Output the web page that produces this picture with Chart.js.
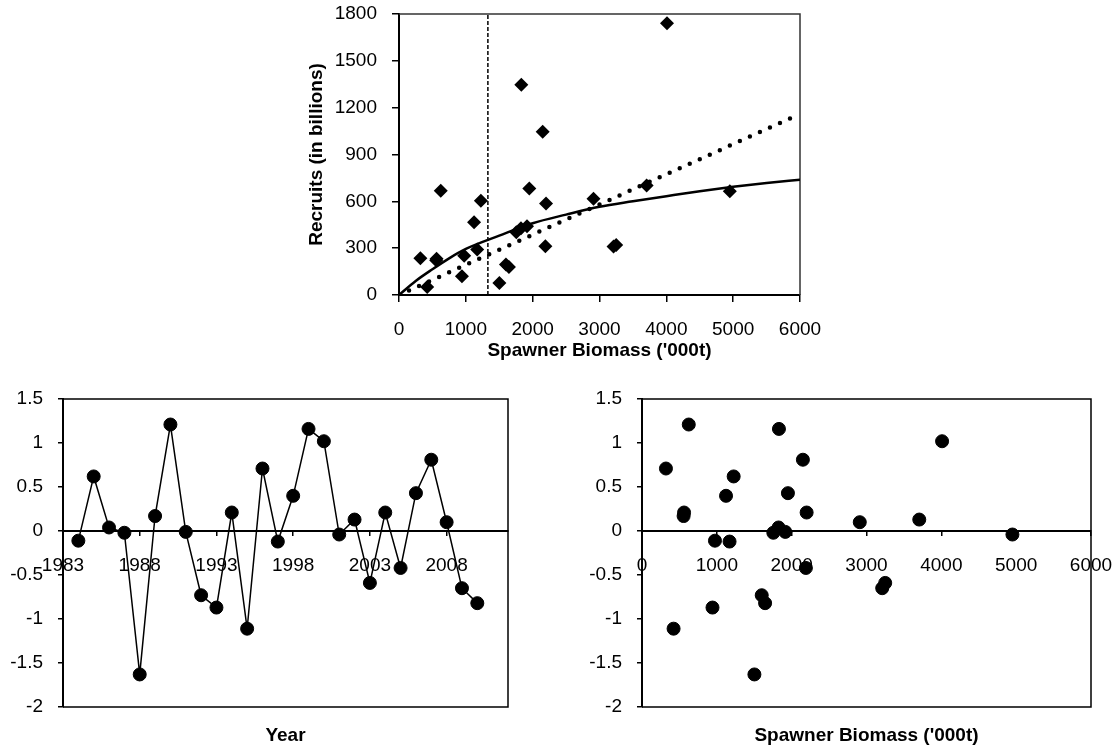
<!DOCTYPE html>
<html>
<head>
<meta charset="utf-8">
<script src="https://cdn.jsdelivr.net/npm/chart.js@4.4.1/dist/chart.umd.min.js"></script>
<style>
  html, body { margin: 0; padding: 0; background: #fff; }
  #page { position: relative; width: 1120px; height: 752px; overflow: hidden; }
  canvas { position: absolute; }
</style>
</head>
<body>
<div id="page">
  <canvas id="srChart" width="560" height="370" style="left:280px;top:0px"></canvas>
  <canvas id="yearChart" width="540" height="372" style="left:0px;top:380px"></canvas>
  <canvas id="ssbChart" width="560" height="372" style="left:560px;top:380px"></canvas>
</div>
<script>
// one value per year
const years = [1984, 1985, 1986, 1987, 1988, 1989, 1990, 1991, 1992, 1993, 1994, 1995, 1996, 1997,
  1998, 1999, 2000, 2001, 2002, 2003, 2004, 2005, 2006, 2007, 2008, 2009, 2010];
const biomass = [975, 1225, 1825, 1755, 1502, 556, 625, 1915, 1600, 942, 562, 422, 320, 1170,
  1123, 1830, 4010, 4950, 3705, 3250, 2200, 2190, 1950, 2150, 2910, 3210, 1645];
const recruits = [252, 603, 428, 402, 77, 222, 667, 440, 195, 120, 232, 51, 235, 291,
  466, 1347, 1740, 665, 701, 320, 586, 312, 682, 1045, 616, 310, 180];
const residuals = [-0.11, 0.62, 0.04, -0.02, -1.63, 0.17, 1.21, -0.01, -0.73, -0.87, 0.21, -1.11, 0.71, -0.12,
  0.40, 1.16, 1.02, -0.04, 0.13, -0.59, 0.21, -0.42, 0.43, 0.81, 0.10, -0.65, -0.82];

// fitted curve (solid)
const fitX = [0, 250, 500, 750, 1000, 1500, 2000, 2500, 3000, 3500, 4000, 4500, 5000, 5500, 6000];
const fitY = [0, 90, 165, 235, 295, 380, 460, 515, 565, 600, 633, 665, 693, 718, 739];

// straight dotted line
const lineX = [0, 6000];
const lineY = [0, 1160];

// vertical reference line
const blimX = [1330, 1330];
const blimY = [0, 1800];

const yearTicks = [1983, 1988, 1993, 1998, 2003, 2008];

const FONT = "'Liberation Sans', Arial, sans-serif";
const tickFont = { family: FONT, size: 19 };
const titleFont = { family: FONT, size: 19, weight: 'bold' };

function pts(xs, ys) {
  return xs.map((x, i) => ({ x: x, y: ys[i] }));
}

// top / right (and optionally bottom) edges of the plot box
const framePlugin = {
  id: 'frame',
  beforeDatasetsDraw(chart, args, opts) {
    const { ctx, chartArea: a } = chart;
    ctx.save();
    ctx.strokeStyle = opts.color;
    ctx.lineWidth = opts.width;
    ctx.beginPath();
    ctx.moveTo(a.left, a.top);
    ctx.lineTo(a.right, a.top);
    ctx.lineTo(a.right, a.bottom);
    if (opts.bottom) ctx.lineTo(a.left, a.bottom);
    ctx.stroke();
    ctx.restore();
  }
};

const plain = v => String(Math.round(v * 10) / 10);

// fixed axis boxes, no extra room for overhanging labels
function fixWidth(w) {
  return s => { s.width = w; s.paddingTop = 0; s.paddingBottom = 0; };
}
function fixHeight(h) {
  return s => { s.height = h; s.paddingLeft = 0; s.paddingRight = 0; };
}

// ---- top: recruits vs spawner biomass ----
new Chart(document.getElementById('srChart'), {
  type: 'scatter',
  data: {
    datasets: [
      {
        data: pts(biomass, recruits),
        pointStyle: 'rectRot',
        pointRadius: 7,
        borderWidth: 0,
        backgroundColor: '#000',
        borderColor: '#000'
      },
      {
        data: pts(fitX, fitY),
        showLine: true,
        borderColor: '#000',
        borderWidth: 2.5,
        pointRadius: 0,
        cubicInterpolationMode: 'monotone'
      },
      {
        data: pts(lineX, lineY),
        showLine: true,
        borderColor: '#000',
        borderWidth: 4.5,
        borderDash: [0, 11],
        borderCapStyle: 'round',
        pointRadius: 0
      },
      {
        data: pts(blimX, blimY),
        showLine: true,
        borderColor: '#000',
        borderWidth: 1.5,
        borderDash: [4, 2],
        pointRadius: 0
      }
    ]
  },
  options: {
    responsive: false,
    animation: false,
    devicePixelRatio: 1,
    layout: { autoPadding: false, padding: { left: 0, right: 40, top: 14, bottom: 0 } },
    plugins: {
      legend: { display: false },
      tooltip: { enabled: false },
      frame: { color: '#333', width: 1.5, bottom: false }
    },
    scales: {
      x: {
        type: 'linear',
        min: 0,
        max: 6000,
        ticks: { stepSize: 1000, color: '#000', font: tickFont, padding: 16, callback: plain, maxRotation: 0 },
        grid: { drawOnChartArea: false, tickLength: 7, color: '#000', lineWidth: 1.5 },
        border: { color: '#000', width: 2 },
        title: { display: true, text: "Spawner Biomass ('000t)", color: '#000', font: titleFont, padding: { top: 0, bottom: 8 } },
        afterFit: fixHeight(75)
      },
      y: {
        min: 0,
        max: 1800,
        ticks: { stepSize: 300, color: '#000', font: tickFont, padding: 15, callback: plain },
        grid: { drawOnChartArea: false, tickLength: 7, color: '#000', lineWidth: 1.5 },
        border: { color: '#000', width: 2 },
        title: { display: true, text: 'Recruits (in billions)', color: '#000', font: titleFont, padding: { top: 25, bottom: 0 } },
        afterFit: fixWidth(119)
      }
    }
  },
  plugins: [framePlugin]
});

// ---- bottom charts share the residual y axis ----
function residualY(width) {
  return {
    min: -2,
    max: 1.5,
    ticks: { stepSize: 0.5, color: '#000', font: tickFont, padding: 15, callback: plain },
    grid: { drawOnChartArea: false, tickLength: 5, color: '#000', lineWidth: 1.5 },
    border: { color: '#000', width: 2 },
    afterFit: fixWidth(width)
  };
}

function bottomTitle(text) {
  return {
    display: true,
    position: 'bottom',
    fullSize: false,
    text: text,
    color: '#000',
    font: titleFont,
    padding: { top: 17.6, bottom: 4.6 }
  };
}

// ---- bottom left: residuals by year ----
new Chart(document.getElementById('yearChart'), {
  type: 'scatter',
  data: {
    datasets: [{
      data: pts(years, residuals),
      showLine: true,
      borderColor: '#000',
      borderWidth: 1.5,
      pointRadius: 6.5,
      pointBorderWidth: 1,
      backgroundColor: '#000',
      pointBackgroundColor: '#000',
      pointBorderColor: '#000'
    }]
  },
  options: {
    responsive: false,
    animation: false,
    devicePixelRatio: 1,
    layout: { autoPadding: false, padding: { left: 0, right: 32, top: 19, bottom: 0 } },
    plugins: {
      legend: { display: false },
      tooltip: { enabled: false },
      title: bottomTitle('Year'),
      frame: { color: '#000', width: 1.5, bottom: true }
    },
    scales: {
      x: {
        type: 'linear',
        min: 1983,
        max: 2012,
        position: { y: 0 },
        afterBuildTicks: s => { s.ticks = yearTicks.map(v => ({ value: v })); },
        afterFit: fixHeight(0),
        ticks: { color: '#000', font: tickFont, padding: 19, callback: plain, autoSkip: false, maxRotation: 0 },
        grid: { drawOnChartArea: false, tickLength: 4, color: '#000', lineWidth: 1.5 },
        border: { color: '#000', width: 2 }
      },
      y: residualY(63)
    }
  },
  plugins: [framePlugin]
});

// ---- bottom right: residuals vs spawner biomass ----
new Chart(document.getElementById('ssbChart'), {
  type: 'scatter',
  data: {
    datasets: [{
      data: pts(biomass, residuals),
      pointRadius: 6.5,
      borderWidth: 1,
      backgroundColor: '#000',
      borderColor: '#000'
    }]
  },
  options: {
    responsive: false,
    animation: false,
    devicePixelRatio: 1,
    layout: { autoPadding: false, padding: { left: 0, right: 29, top: 19, bottom: 0 } },
    plugins: {
      legend: { display: false },
      tooltip: { enabled: false },
      title: bottomTitle("Spawner Biomass ('000t)"),
      frame: { color: '#000', width: 1.5, bottom: true }
    },
    scales: {
      x: {
        type: 'linear',
        min: 0,
        max: 6000,
        position: { y: 0 },
        afterFit: fixHeight(0),
        ticks: { stepSize: 1000, color: '#000', font: tickFont, padding: 19, callback: plain, maxRotation: 0 },
        grid: { drawOnChartArea: false, tickLength: 4, color: '#000', lineWidth: 1.5 },
        border: { color: '#000', width: 2 }
      },
      y: residualY(82)
    }
  },
  plugins: [framePlugin]
});
</script>
</body>
</html>
